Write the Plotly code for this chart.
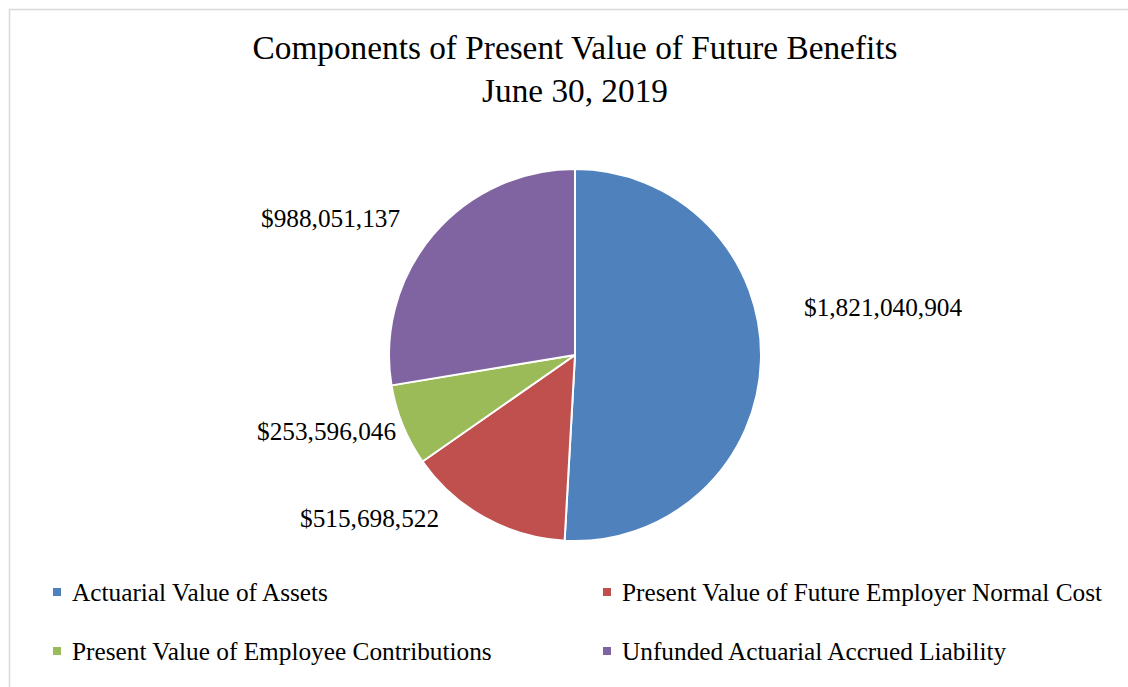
import plotly.graph_objects as go

# Components of present value of future benefits (June 30, 2019)
categories = [
    "Actuarial Value of Assets",
    "Present Value of Future Employer Normal Cost",
    "Present Value of Employee Contributions",
    "Unfunded Actuarial Accrued Liability",
]
values = [1821040904, 515698522, 253596046, 988051137]
colors = ["#4F81BD", "#C0504D", "#9BBB59", "#8064A2"]

W, H = 1128, 687
FONT = "Liberation Serif, Times New Roman, serif"
TEXT_SIZE = 25.3

# pie placement in pixels (center and radius)
cx, cy, r = 575, 355, 186

# data label anchor points (pixel space, label centres)
label_pos = [(883, 307), (369, 518), (326, 431), (330, 218)]

# legend layout: two columns, two rows
legend_cols = [57, 607]
legend_rows = [592, 651]


def px(x):
    return x / W


def py(y):
    return 1 - y / H


fig = go.Figure(
    go.Pie(
        labels=categories,
        values=values,
        sort=False,
        direction="clockwise",
        rotation=0,
        marker=dict(colors=colors, line=dict(color="white", width=2)),
        textinfo="none",
        hoverinfo="label+value+percent",
        showlegend=False,
        domain=dict(x=[px(cx - r), px(cx + r)], y=[py(cy + r), py(cy - r)]),
    )
)

annotations = []
# value labels
for v, (lx, ly) in zip(values, label_pos):
    annotations.append(
        dict(
            x=px(lx), y=py(ly), xref="paper", yref="paper",
            text=f"${v:,}", showarrow=False,
            xanchor="center", yanchor="middle",
            font=dict(family=FONT, size=TEXT_SIZE, color="#000000"),
        )
    )

# legend entries
shapes = []
for i, (name, col) in enumerate(zip(categories, colors)):
    lx = legend_cols[i % 2]
    ly = legend_rows[i // 2]
    shapes.append(
        dict(
            type="rect", xref="paper", yref="paper",
            x0=px(lx - 4), x1=px(lx + 4), y0=py(ly + 4), y1=py(ly - 4),
            fillcolor=col, line=dict(width=0),
        )
    )
    annotations.append(
        dict(
            x=px(lx + 13), y=py(ly), xref="paper", yref="paper",
            text=name, showarrow=False,
            xanchor="left", yanchor="middle",
            font=dict(family=FONT, size=TEXT_SIZE, color="#000000"),
        )
    )

# chart area border
shapes.append(
    dict(
        type="rect", xref="paper", yref="paper",
        x0=px(9.5), x1=px(W + 5), y0=py(H + 5), y1=py(9.5),
        line=dict(color="#D9D9D9", width=1.5), fillcolor="rgba(0,0,0,0)",
        layer="below",
    )
)

fig.update_layout(
    width=W,
    height=H,
    margin=dict(l=0, r=0, t=0, b=0),
    paper_bgcolor="white",
    plot_bgcolor="white",
    title=dict(
        text="Components of Present Value of Future Benefits<br>June 30, 2019",
        x=px(575), xanchor="center",
        y=py(59), yanchor="middle",
        font=dict(family=FONT, size=33.3, color="#000000"),
    ),
    annotations=annotations,
    shapes=shapes,
)

fig.write_html("out.html")
